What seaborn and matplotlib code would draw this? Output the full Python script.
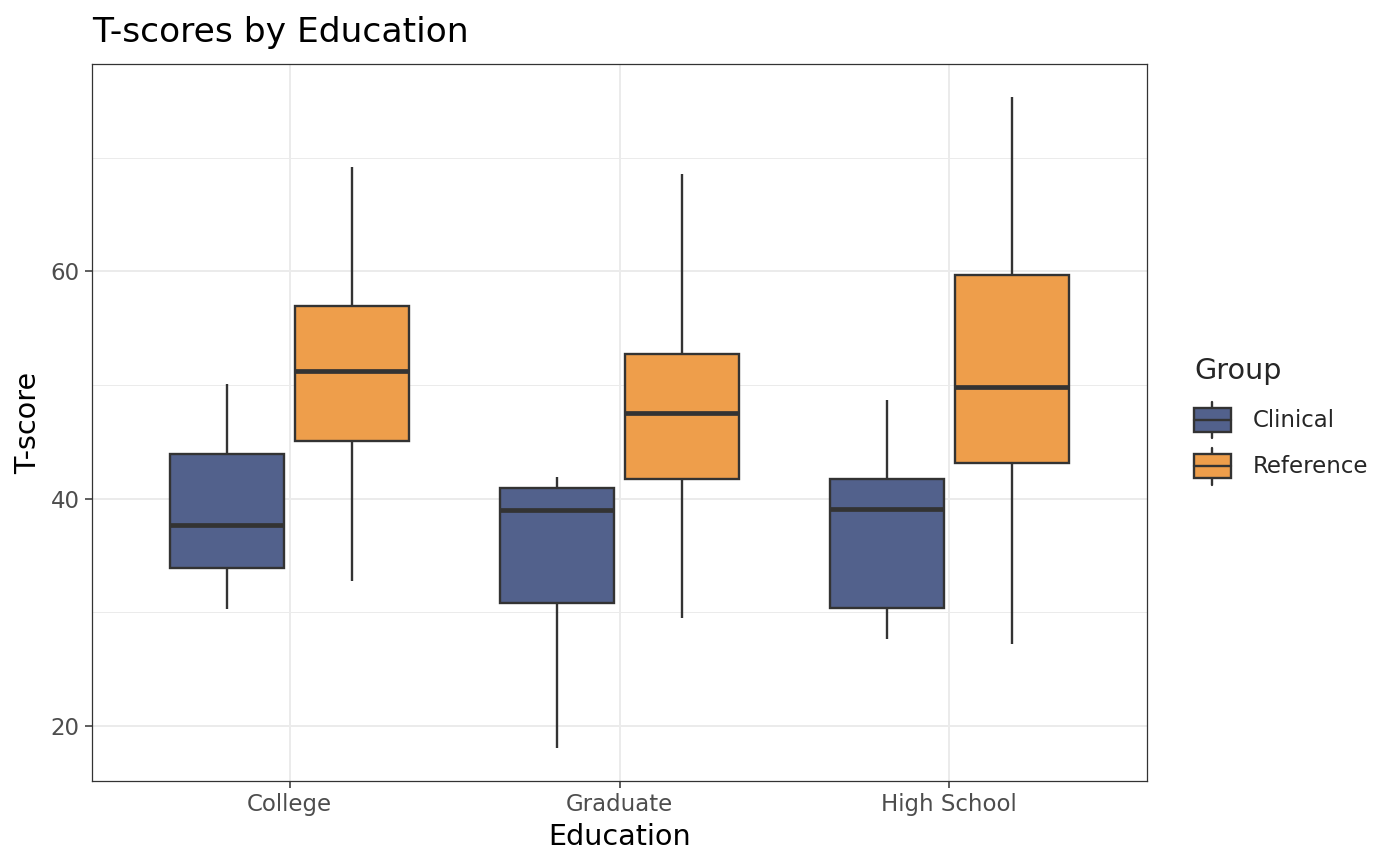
"""
Boxplot of T-scores by education level and group, theme_bw look.
"""

import pandas as pd
import matplotlib
matplotlib.use('Agg')
import matplotlib.pyplot as plt
from matplotlib.legend_handler import HandlerBase
from matplotlib.patches import Rectangle, Patch
from matplotlib.lines import Line2D
from matplotlib.ticker import MultipleLocator
import seaborn as sns

# Values: [lower whisker, Q1, median, Q3, upper whisker]
education = ['College', 'Graduate', 'High School']
groups = ['Clinical', 'Reference']

clinical_college = [30.3, 33.9, 37.7, 43.9, 50.1]
clinical_graduate = [18.0, 30.8, 39.0, 40.9, 41.9]
clinical_highschool = [27.6, 30.4, 39.1, 41.7, 48.7]

reference_college = [32.7, 45.1, 51.2, 57.0, 69.2]
reference_graduate = [29.5, 41.7, 47.5, 52.7, 68.6]
reference_highschool = [27.2, 43.1, 49.8, 59.7, 75.4]

group_colors = {'Clinical': '#52618C', 'Reference': '#EE9E4B'}
edge_color = '#333333'

series = {
    ('College', 'Clinical'): clinical_college,
    ('Graduate', 'Clinical'): clinical_graduate,
    ('High School', 'Clinical'): clinical_highschool,
    ('College', 'Reference'): reference_college,
    ('Graduate', 'Reference'): reference_graduate,
    ('High School', 'Reference'): reference_highschool,
}

rows = []
for (edu, grp), vals in series.items():
    for v in vals:
        rows.append({'Education': edu, 'Group': grp, 'T-score': v})
df = pd.DataFrame(rows)


class BoxKeyHandler(HandlerBase):
    """Legend key that looks like a small boxplot (ggplot style)."""

    def create_artists(self, legend, orig_handle, xdescent, ydescent,
                       width, height, fontsize, trans):
        x0, y0 = -xdescent, -ydescent
        bh = height * 0.65
        by = y0 + (height - bh) / 2
        cx = x0 + width / 2
        lw = 1.7
        whisk = Line2D([cx, cx], [y0, y0 + height], color=edge_color,
                       lw=lw, transform=trans)
        box = Rectangle((x0, by), width, bh,
                        facecolor=orig_handle.get_facecolor(),
                        edgecolor=edge_color, lw=lw, transform=trans)
        med = Line2D([x0, x0 + width], [y0 + height / 2] * 2,
                     color=edge_color, lw=lw, transform=trans)
        return [whisk, box, med]


sns.set_style('white')
plt.rcParams['font.family'] = ['DejaVu Sans']

fig = plt.figure(figsize=(14, 8.66), dpi=100)
ax = fig.add_axes([0.0657, 0.0982, 0.7536, 0.8279])

sns.boxplot(data=df, x='Education', y='T-score', hue='Group',
            order=education, hue_order=groups, palette=group_colors,
            saturation=1, width=0.76, gap=0.09, linecolor=edge_color,
            linewidth=1.7, showcaps=False, fliersize=0, whis=1.5,
            medianprops=dict(linewidth=3.4, color=edge_color),
            legend=False, ax=ax, zorder=3)

# ggplot-like expansion
all_vals = df['T-score'].to_numpy()
span = all_vals.max() - all_vals.min()
ax.set_ylim(all_vals.min() - 0.05 * span, all_vals.max() + 0.05 * span)
ax.set_xlim(-0.6, len(education) - 0.4)

ax.yaxis.set_major_locator(MultipleLocator(20))
ax.yaxis.set_minor_locator(MultipleLocator(10))
ax.grid(True, which='major', color='#EBEBEB', linewidth=1.4, zorder=0)
ax.grid(True, which='minor', axis='y', color='#EBEBEB', linewidth=0.7, zorder=0)
ax.set_axisbelow(True)

for spine in ax.spines.values():
    spine.set_color(edge_color)
    spine.set_linewidth(0.9)

ax.tick_params(axis='both', which='major', length=5, width=1.1,
               color=edge_color, labelcolor='#4D4D4D', labelsize=16.5, pad=4)
ax.tick_params(axis='y', which='minor', length=0)
ax.tick_params(bottom=True, left=True)

ax.set_xlabel('Education', fontsize=20.6, color='black', labelpad=5)
ax.set_ylabel('T-score', fontsize=20.6, color='black', labelpad=6)
ax.set_title('T-scores by Education', loc='left', fontsize=24.8,
             color='black', pad=16)

handles = [Patch(facecolor=group_colors[g]) for g in groups]
leg = fig.legend(handles, groups, title='Group', loc='center left',
                 bbox_to_anchor=(1194 / 1400, 1 - 421 / 866),
                 frameon=False, fontsize=16.5, title_fontsize=20.6,
                 handler_map={Patch: BoxKeyHandler()},
                 handlelength=1.6, handleheight=2.1, labelspacing=0.4,
                 handletextpad=0.95, borderpad=0, borderaxespad=0,
                 alignment='left')
# a little more room between the legend title and the keys
leg._legend_box.sep = 0.4 * 16.5 + 5

fig.savefig('out.png', dpi=100)
